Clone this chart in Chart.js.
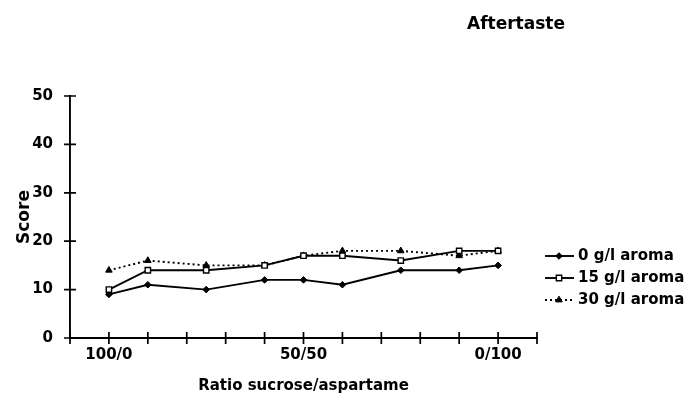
<!DOCTYPE html>
<html>
<head>
<meta charset="utf-8">
<title>Aftertaste</title>
<script src="https://cdn.jsdelivr.net/npm/chart.js@4.4.1/dist/chart.umd.min.js"></script>
<style>
html, body { margin: 0; padding: 0; background: #fff; }
#wrap { width: 694px; height: 398px; }
</style>
</head>
<body>
<div id="wrap"><canvas id="chart" width="694" height="398"></canvas></div>
<script>
// data (x = % aspartame in the sweetener blend)
const aspartamePct = [0, 10, 25, 40, 50, 60, 75, 90, 100];
const aroma0 = [9, 11, 10, 12, 12, 11, 14, 14, 15];
const aroma15 = [10, 14, 14, 15, 17, 17, 16, 18, 18];
const aroma30 = [14, 16, 15, 15, 17, 18, 18, 17, 18];
const seriesNames = ['0 g/l aroma', '15 g/l aroma', '30 g/l aroma'];
const xTickLabels = { 0: '100/0', 50: '50/50', 100: '0/100' };
const chartTitle = 'Aftertaste';

const FONT = 'DejaVu Sans';
Chart.defaults.font.family = FONT;
Chart.defaults.font.weight = 'bold';
Chart.defaults.color = '#000';

function toPoints(values) {
    return values.map((v, i) => ({ x: aspartamePct[i], y: v }));
}

// ticks that cross the axis line on both sides
const crossTicks = {
    id: 'crossTicks',
    afterDraw(chart) {
        const ctx = chart.ctx;
        const area = chart.chartArea;
        const xs = chart.scales.x, ys = chart.scales.y;
        ctx.save();
        ctx.strokeStyle = '#000';
        ctx.lineWidth = 1.7;
        ctx.beginPath();
        xs.ticks.forEach(t => {
            const px = xs.getPixelForValue(t.value);
            ctx.moveTo(px, area.bottom - 6);
            ctx.lineTo(px, area.bottom + 6);
        });
        ys.ticks.forEach(t => {
            const py = ys.getPixelForValue(t.value);
            ctx.moveTo(area.left - 6, py);
            ctx.lineTo(area.left + 6, py);
        });
        ctx.stroke();
        ctx.restore();
    }
};

// legend on the right, line sample + marker, like the original
const sideLegend = {
    id: 'sideLegend',
    afterDraw(chart) {
        const ctx = chart.ctx;
        const sets = chart.data.datasets.slice().sort((a, b) => seriesNames.indexOf(a.label) - seriesNames.indexOf(b.label));
        sets.forEach((ds, i) => {
            const y = 256 + i * 22;
            ctx.save();
            ctx.strokeStyle = '#000';
            ctx.lineWidth = ds.borderWidth;
            ctx.setLineDash(ds.borderDash || []);
            ctx.beginPath();
            ctx.moveTo(545, y);
            ctx.lineTo(574, y);
            ctx.stroke();
            ctx.setLineDash([]);
            ctx.fillStyle = ds.pointBackgroundColor;
            ctx.lineWidth = ds.pointBorderWidth;
            Chart.helpers.drawPoint(ctx, { pointStyle: ds.pointStyle, radius: ds.pointRadius, borderWidth: ds.pointBorderWidth, rotation: 0 }, 559, y);
            ctx.fillStyle = '#000';
            ctx.font = 'bold 15px "' + FONT + '"';
            ctx.textBaseline = 'middle';
            ctx.textAlign = 'left';
            ctx.fillText(ds.label, 578, y);
            ctx.restore();
        });
    }
};

const titleText = {
    id: 'titleText',
    afterDraw(chart) {
        const ctx = chart.ctx;
        ctx.save();
        ctx.fillStyle = '#000';
        ctx.font = 'bold 17px "' + FONT + '"';
        ctx.textAlign = 'center';
        ctx.textBaseline = 'middle';
        ctx.fillText(chartTitle, 516, 25);
        ctx.restore();
    }
};

new Chart(document.getElementById('chart'), {
    type: 'line',
    data: {
        datasets: [
            {
                label: seriesNames[0],
                data: toPoints(aroma0),
                borderColor: '#000',
                borderWidth: 1.9,
                pointStyle: 'rectRot',
                pointRadius: 3.3,
                pointBorderWidth: 1,
                pointBackgroundColor: '#000',
                pointBorderColor: '#000',
                order: 2
            },
            {
                label: seriesNames[1],
                data: toPoints(aroma15),
                borderColor: '#000',
                borderWidth: 1.9,
                pointStyle: 'rect',
                pointRadius: 3.8,
                pointBorderWidth: 1.4,
                pointBackgroundColor: '#fff',
                pointBorderColor: '#000',
                order: 0
            },
            {
                label: seriesNames[2],
                data: toPoints(aroma30),
                borderColor: '#000',
                borderWidth: 1.9,
                borderDash: [2, 3],
                pointStyle: 'triangle',
                pointRadius: 3.8,
                pointBorderWidth: 1,
                pointBackgroundColor: '#000',
                pointBorderColor: '#000',
                order: 1
            }
        ]
    },
    options: {
        responsive: false,
        animation: false,
        layout: { padding: { top: 96, right: 157, left: 0, bottom: 0 } },
        plugins: {
            legend: { display: false },
            tooltip: { enabled: false },
            title: { display: false }
        },
        scales: {
            x: {
                type: 'linear',
                min: -10,
                max: 110,
                grid: { display: false, drawTicks: false },
                border: { display: true, color: '#000', width: 1.9 },
                ticks: {
                    stepSize: 10,
                    padding: 8,
                    autoSkip: false,
                    maxRotation: 0,
                    font: { size: 15, weight: 'bold' },
                    callback: v => xTickLabels[v] || ''
                },
                title: {
                    display: true,
                    text: 'Ratio sucrose/aspartame',
                    font: { size: 15, weight: 'bold' },
                    padding: { top: 0, bottom: 3 }
                },
                afterFit(scale) { scale.height = 60; }
            },
            y: {
                min: 0,
                max: 50,
                grid: { display: false, drawTicks: false },
                border: { display: true, color: '#000', width: 1.9 },
                ticks: {
                    stepSize: 10,
                    padding: 17,
                    font: { size: 15, weight: 'bold' }
                },
                title: {
                    display: true,
                    text: 'Score',
                    font: { size: 17, weight: 'bold' },
                    padding: { top: 14, bottom: 0 }
                },
                afterFit(scale) { scale.width = 70; }
            }
        }
    },
    plugins: [crossTicks, sideLegend, titleText]
});
</script>
</body>
</html>
